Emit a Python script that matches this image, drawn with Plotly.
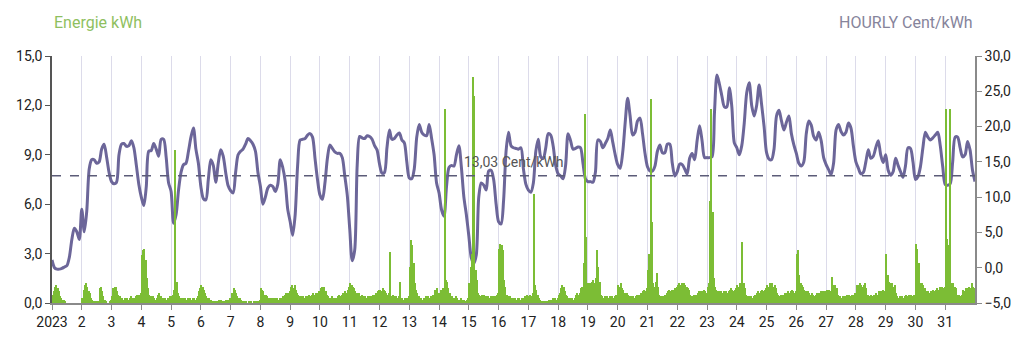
import pandas as pd
import plotly.graph_objects as go

# ---------------- data ----------------
DAY_LABELS = ["2023"] + [str(d) for d in range(2, 32)]
AVG_PRICE = 13.03  # Cent/kWh, dashed reference line

# hourly price (Cent/kWh), sampled every 2 hours, one row per day (00,02,...,22h)
PRICE_2H = [
    1.1, 0.0, -0.2, -0.2, -0.1, 0.1, 0.3, 1.5, 4.0, 5.6, 5.1, 4.0,
    8.3, 5.1, 8.0, 14.0, 15.3, 15.3, 14.8, 15.0, 16.8, 17.5, 15.7, 13.5,
    12.2, 11.9, 12.1, 16.0, 17.5, 17.6, 17.2, 17.3, 18.0, 17.0, 14.5, 11.8,
    10.0, 8.8, 11.5, 16.5, 16.6, 17.6, 16.8, 15.8, 18.2, 18.2, 15.7, 12.0,
    10.8, 6.3, 7.5, 11.0, 13.5, 14.6, 14.8, 16.5, 18.5, 19.8, 16.8, 14.8,
    11.5, 9.8, 9.6, 12.5, 15.3, 14.5, 12.1, 14.8, 16.7, 15.8, 13.5, 11.6,
    10.9, 10.6, 13.5, 16.0, 16.5, 16.8, 17.5, 18.3, 18.0, 17.5, 16.5, 13.5,
    11.5, 9.0, 10.0, 11.3, 11.7, 11.5, 10.8, 11.8, 15.3, 14.2, 12.2, 8.3,
    6.5, 4.6, 7.5, 14.5, 18.1, 18.2, 18.3, 18.8, 19.0, 18.5, 15.5, 12.5,
    10.3, 9.7, 12.0, 15.5, 17.4, 16.9, 16.4, 16.2, 16.2, 15.6, 13.0, 10.3,
    5.5, 1.0, 2.5, 14.5, 18.6, 18.4, 18.3, 18.7, 18.6, 18.2, 17.3, 16.7,
    14.7, 13.4, 13.5, 17.0, 19.5, 18.2, 18.3, 18.8, 19.1, 18.1, 17.7, 15.0,
    12.7, 12.6, 14.0, 18.5, 20.3, 19.2, 18.8, 18.7, 20.3, 18.3, 16.0, 12.0,
    10.6, 8.2, 7.3, 11.5, 14.2, 14.5, 14.4, 16.0, 17.3, 14.2, 10.0, 7.5,
    4.5, 1.4, 0.6, 1.8, 10.0, 12.0, 11.7, 11.0, 13.7, 13.8, 12.5, 9.0,
    6.5, 6.2, 9.5, 16.5, 19.2, 17.3, 17.0, 16.9, 16.8, 17.0, 14.0, 11.8,
    11.0, 10.7, 12.0, 16.5, 18.2, 15.7, 15.5, 17.0, 19.0, 18.8, 17.2, 14.5,
    13.3, 13.0, 12.6, 14.5, 19.0, 18.0, 16.8, 16.9, 17.1, 17.0, 14.8, 12.6,
    12.2, 12.2, 12.1, 13.5, 18.1, 17.9, 17.0, 17.6, 18.3, 19.5, 17.8, 16.0,
    14.6, 14.1, 16.3, 20.5, 24.0, 21.5, 18.8, 19.2, 20.8, 21.2, 19.0, 16.2,
    14.3, 13.7, 13.7, 14.4, 16.5, 17.4, 16.3, 16.3, 17.5, 17.5, 14.8, 13.0,
    13.6, 14.7, 14.6, 14.0, 13.3, 15.5, 16.2, 15.3, 18.0, 20.1, 18.0, 15.6,
    15.6, 15.6, 15.7, 22.0, 27.3, 26.0, 24.3, 22.8, 22.8, 25.5, 22.8, 17.7,
    17.0, 16.0, 17.3, 20.5, 24.8, 26.2, 23.0, 21.5, 23.0, 25.9, 23.1, 20.0,
    16.3, 15.4, 15.3, 16.8, 21.5, 22.3, 20.8, 19.5, 20.6, 21.5, 19.0, 17.4,
    16.2, 14.8, 14.4, 15.0, 19.0, 20.8, 20.2, 18.6, 18.1, 19.2, 18.0, 15.6,
    14.6, 13.9, 13.2, 14.8, 19.5, 20.3, 19.3, 18.8, 19.2, 20.5, 19.8, 17.2,
    15.0, 14.1, 13.3, 13.5, 15.0, 16.7, 15.5, 15.8, 17.0, 18.0, 16.0, 14.9,
    16.0, 13.8, 13.1, 13.6, 15.5, 14.5, 13.6, 12.8, 14.5, 17.0, 16.9, 15.0,
    12.5, 12.9, 14.3, 17.0, 19.2, 18.5, 18.1, 18.4, 18.8, 19.2, 17.3, 14.3,
    11.8, 11.7, 11.9, 15.0, 18.5, 18.5, 17.0, 15.7, 16.0, 17.9, 16.7, 13.8,
    12.2,
]

# hourly energy (kWh), one row per day (00..23h)
ENERGY_H = [
    0.5, 0.7, 1.0, 1.1, 0.9, 0.7, 0.4, 0.3, 0.2, 0.2, 0.1, 0.0, 0.0, 0.0, 0.0, 0.0, 0.0, 0.0, 0.0, 0.0, 0.0, 0.0, 0.0, 0.0,
    0.3, 0.8, 1.1, 1.2, 1.0, 0.7, 0.6, 0.3, 0.2, 0.1, 0.1, 0.1, 0.0, 0.1, 0.9, 1.0, 0.7, 0.4, 0.2, 0.1, 0.0, 0.0, 0.1, 0.2,
    0.4, 0.9, 1.0, 1.0, 0.7, 0.5, 0.4, 0.3, 0.3, 0.2, 0.3, 0.2, 0.3, 0.2, 0.3, 0.4, 0.3, 0.2, 0.3, 0.4, 0.5, 0.4, 0.5, 0.6,
    2.9, 3.2, 3.3, 2.6, 1.5, 0.9, 0.5, 0.4, 0.3, 0.4, 0.3, 0.2, 0.3, 0.5, 0.6, 0.4, 0.3, 0.3, 0.2, 0.3, 0.2, 0.3, 0.3, 0.4,
    0.4, 0.5, 0.8, 9.3, 1.3, 0.6, 0.4, 0.3, 0.3, 0.2, 0.3, 0.3, 0.2, 0.3, 0.2, 0.3, 0.2, 0.3, 0.3, 0.2, 0.3, 0.4, 0.7, 0.9,
    1.1, 1.0, 0.8, 0.6, 0.4, 0.3, 0.3, 0.2, 0.2, 0.1, 0.1, 0.1, 0.1, 0.1, 0.2, 0.1, 0.2, 0.1, 0.1, 0.1, 0.2, 0.2, 0.2, 0.3,
    0.3, 0.6, 0.9, 0.8, 0.6, 0.4, 0.3, 0.3, 0.2, 0.1, 0.1, 0.0, 0.1, 0.0, 0.1, 0.0, 0.1, 0.0, 0.1, 0.1, 0.0, 0.1, 0.1, 0.2,
    0.9, 0.8, 0.7, 0.5, 0.5, 0.4, 0.3, 0.3, 0.3, 0.2, 0.3, 0.3, 0.2, 0.3, 0.2, 0.3, 0.3, 0.3, 0.4, 0.5, 0.6, 0.5, 0.6, 0.7,
    1.0, 1.1, 0.9, 1.1, 0.8, 0.6, 0.5, 0.4, 0.4, 0.3, 0.4, 0.3, 0.4, 0.3, 0.4, 0.5, 0.4, 0.5, 0.6, 0.5, 0.6, 0.5, 0.6, 0.7,
    0.9, 1.0, 0.8, 1.0, 0.7, 0.5, 0.4, 0.3, 0.3, 0.4, 0.3, 0.2, 0.3, 0.3, 0.4, 0.5, 0.4, 0.5, 0.6, 0.5, 0.7, 0.6, 0.8, 1.0,
    1.2, 1.1, 1.0, 0.9, 0.7, 0.6, 0.5, 0.6, 0.4, 0.5, 0.4, 0.3, 0.4, 0.3, 0.4, 0.3, 0.4, 0.4, 0.5, 0.4, 0.5, 0.6, 0.7, 0.8,
    0.8, 0.7, 0.9, 0.8, 0.7, 0.6, 0.5, 0.6, 3.1, 0.4, 0.5, 0.4, 0.3, 0.4, 0.3, 0.4, 1.3, 0.3, 0.3, 0.2, 0.3, 0.2, 0.3, 0.4,
    2.2, 3.8, 3.5, 2.4, 1.2, 0.8, 0.6, 0.4, 0.3, 0.3, 0.2, 0.3, 0.3, 0.4, 0.3, 0.4, 0.3, 0.4, 0.4, 0.5, 0.8, 0.7, 0.9, 0.6,
    0.6, 0.8, 0.7, 0.9, 11.8, 1.4, 1.3, 0.9, 0.6, 0.4, 0.4, 0.3, 0.3, 0.4, 0.3, 0.2, 0.2, 0.3, 0.2, 0.1, 0.2, 0.1, 0.2, 0.3,
    1.2, 2.2, 3.0, 13.7, 12.6, 2.0, 1.4, 0.6, 0.5, 0.4, 0.5, 0.4, 0.5, 0.4, 0.3, 0.4, 0.3, 0.4, 0.3, 0.4, 0.3, 0.4, 0.5, 0.6,
    3.3, 3.6, 3.5, 3.2, 1.4, 1.0, 0.5, 0.4, 0.3, 0.4, 0.3, 0.3, 0.2, 0.3, 0.2, 0.3, 0.3, 0.2, 0.3, 0.2, 0.3, 0.4, 0.5, 0.4,
    0.4, 0.5, 0.4, 0.6, 6.6, 1.1, 0.8, 0.5, 0.3, 0.2, 0.1, 0.1, 0.1, 0.0, 0.1, 0.1, 0.2, 0.1, 0.2, 0.3, 0.2, 0.3, 0.2, 0.3,
    0.5, 0.6, 0.9, 1.1, 1.0, 0.7, 0.5, 0.4, 0.3, 0.3, 0.2, 0.3, 0.2, 0.3, 0.5, 0.6, 0.5, 0.6, 0.9, 1.0, 2.4, 11.5, 4.0, 1.2,
    1.2, 1.1, 1.2, 1.3, 1.4, 1.2, 1.5, 3.2, 2.2, 1.3, 0.5, 0.4, 0.3, 0.4, 0.3, 0.4, 0.3, 0.4, 0.3, 0.4, 0.3, 0.4, 0.5, 0.4,
    1.1, 1.0, 1.2, 0.9, 0.8, 0.6, 0.5, 0.6, 0.5, 0.4, 0.4, 0.3, 0.4, 0.3, 0.4, 0.5, 0.4, 0.5, 0.6, 0.5, 0.7, 0.8, 0.7, 0.9,
    2.0, 3.0, 12.4, 4.9, 1.2, 1.0, 1.3, 1.8, 1.0, 0.5, 0.4, 0.4, 0.3, 0.4, 0.5, 0.6, 0.7, 0.8, 0.7, 0.8, 0.7, 0.8, 0.9, 1.0,
    1.1, 1.2, 1.1, 1.2, 1.0, 1.2, 1.1, 1.0, 0.9, 0.8, 0.5, 0.4, 0.4, 0.5, 0.4, 0.5, 0.6, 0.7, 0.6, 0.7, 0.7, 0.8, 0.7, 0.6,
    1.0, 1.2, 6.2, 11.8, 5.5, 1.5, 1.0, 0.8, 0.7, 0.7, 0.6, 0.7, 0.6, 0.7, 0.6, 0.7, 0.6, 0.7, 0.8, 0.9, 0.8, 0.7, 0.8, 0.9,
    1.1, 1.0, 1.2, 1.1, 3.7, 1.2, 0.9, 0.5, 0.4, 0.4, 0.3, 0.4, 0.3, 0.4, 0.5, 0.4, 0.6, 0.7, 0.6, 0.7, 0.8, 0.7, 0.8, 0.9,
    1.1, 1.0, 1.2, 1.1, 1.2, 1.0, 1.1, 0.9, 0.6, 0.5, 0.4, 0.5, 0.4, 0.5, 0.6, 0.5, 0.6, 0.7, 0.6, 0.7, 0.8, 0.7, 0.6, 0.7,
    3.0, 3.2, 1.7, 1.2, 1.1, 1.0, 0.8, 0.7, 0.6, 0.7, 0.6, 0.5, 0.6, 0.5, 0.4, 0.5, 0.6, 0.5, 0.6, 0.7, 0.6, 0.7, 0.6, 0.7,
    0.8, 0.7, 0.8, 0.7, 1.6, 1.1, 1.0, 1.1, 0.9, 0.5, 0.4, 0.4, 0.3, 0.4, 0.3, 0.4, 0.5, 0.4, 0.5, 0.4, 0.5, 0.4, 0.5, 0.6,
    1.1, 1.0, 1.1, 1.2, 1.1, 1.0, 1.1, 1.2, 0.9, 0.5, 0.4, 0.4, 0.5, 0.4, 0.5, 0.4, 0.6, 0.5, 0.7, 0.6, 0.7, 0.8, 0.7, 0.6,
    3.0, 1.7, 1.3, 1.2, 1.1, 1.2, 1.0, 1.1, 0.6, 0.4, 0.3, 0.4, 0.3, 0.4, 0.3, 0.4, 0.5, 0.4, 0.5, 0.4, 0.5, 0.4, 0.5, 0.4,
    3.6, 3.3, 2.4, 1.2, 1.1, 1.2, 1.1, 0.9, 0.7, 0.6, 0.7, 0.6, 0.7, 0.6, 0.8, 0.7, 0.8, 0.9, 0.8, 1.0, 0.9, 1.0, 0.9, 1.0,
    11.8, 3.9, 3.5, 11.8, 1.2, 1.1, 1.2, 1.0, 0.9, 0.5, 0.4, 0.5, 0.4, 0.5, 0.8, 0.7, 0.9, 0.8, 0.9, 1.0, 0.9, 1.2, 1.0, 0.9,
]

START = pd.Timestamp("2023-01-01")
END = pd.Timestamp("2023-02-01")

price_x = pd.date_range(START, periods=len(PRICE_2H), freq="2h")
energy_x = pd.date_range(START + pd.Timedelta(minutes=30), periods=len(ENERGY_H), freq="h")
day_ticks = pd.date_range(START, periods=len(DAY_LABELS), freq="D")

GREEN = "#7cbd35"
PURPLE = "#6c6699"
FONT = "Roboto, Arial, sans-serif"

fig = go.Figure()

# price line on the base (right) axis
fig.add_trace(go.Scatter(
    x=price_x, y=PRICE_2H, mode="lines", yaxis="y",
    line=dict(color=PURPLE, width=3, shape="spline", smoothing=0.8),
    hoverinfo="skip", showlegend=False,
))

# energy bars on the overlaying (left) axis -> drawn on top
fig.add_trace(go.Bar(
    x=energy_x, y=ENERGY_H, yaxis="y2",
    marker=dict(color=GREEN, line=dict(width=0)),
    width=3600 * 1000 * 0.85,
    hoverinfo="skip", showlegend=False,
))

fig.add_shape(
    type="line", xref="paper", x0=0, x1=1, yref="y", y0=AVG_PRICE, y1=AVG_PRICE,
    line=dict(color="#5c5c78", width=1.4, dash="dash"), layer="above",
)

fig.add_annotation(
    text=f"{AVG_PRICE:.2f}".replace(".", ",") + " Cent/kWh",
    xref="paper", x=0.5, yref="y", y=AVG_PRICE,
    xanchor="center", yanchor="bottom", yshift=4, showarrow=False,
    font=dict(family=FONT, size=14, color="#555555"),
)

fig.add_annotation(
    text="Energie kWh", xref="paper", x=0, yref="paper", y=1,
    xanchor="left", yanchor="middle", yshift=34, showarrow=False,
    font=dict(family=FONT, size=16, color="#8fbf5f"),
)
fig.add_annotation(
    text="HOURLY Cent/kWh", xref="paper", x=1, yref="paper", y=1,
    xanchor="right", yanchor="middle", yshift=34, showarrow=False,
    font=dict(family=FONT, size=16, color="#86849b"),
)

fig.update_layout(
    width=1034, height=352,
    margin=dict(l=52, r=59, t=56, b=49),
    paper_bgcolor="white", plot_bgcolor="white",
    separators=",.",
    bargap=0,
    font=dict(family=FONT, size=14, color="#222222"),
    xaxis=dict(
        type="date", range=[START, END],
        tickmode="array", tickvals=day_ticks, ticktext=DAY_LABELS,
        showgrid=True, gridcolor="#dcdbea", gridwidth=1,
        showline=True, linecolor="#8a8a8a", linewidth=1.5,
        ticks="outside", ticklen=5, tickcolor="#8a8a8a",
        tickfont=dict(family=FONT, size=14, color="#222222"),
        zeroline=False,
    ),
    yaxis=dict(
        side="right", range=[-5, 30], tickmode="linear", tick0=-5, dtick=5,
        tickformat=".1f", showgrid=False, zeroline=False,
        showline=True, linecolor="#8a8a8a", linewidth=1.5,
        ticks="outside", ticklen=5, tickcolor="#8a8a8a",
        tickfont=dict(family=FONT, size=14, color="#222222"),
    ),
    yaxis2=dict(
        side="left", overlaying="y", range=[0, 15], tickmode="linear", tick0=0, dtick=3,
        tickformat=".1f", showgrid=False, zeroline=False,
        showline=True, linecolor="#555555", linewidth=1.5,
        ticks="outside", ticklen=5, tickcolor="#555555",
        tickfont=dict(family=FONT, size=14, color="#222222"),
    ),
)

fig.write_html("out.html")
